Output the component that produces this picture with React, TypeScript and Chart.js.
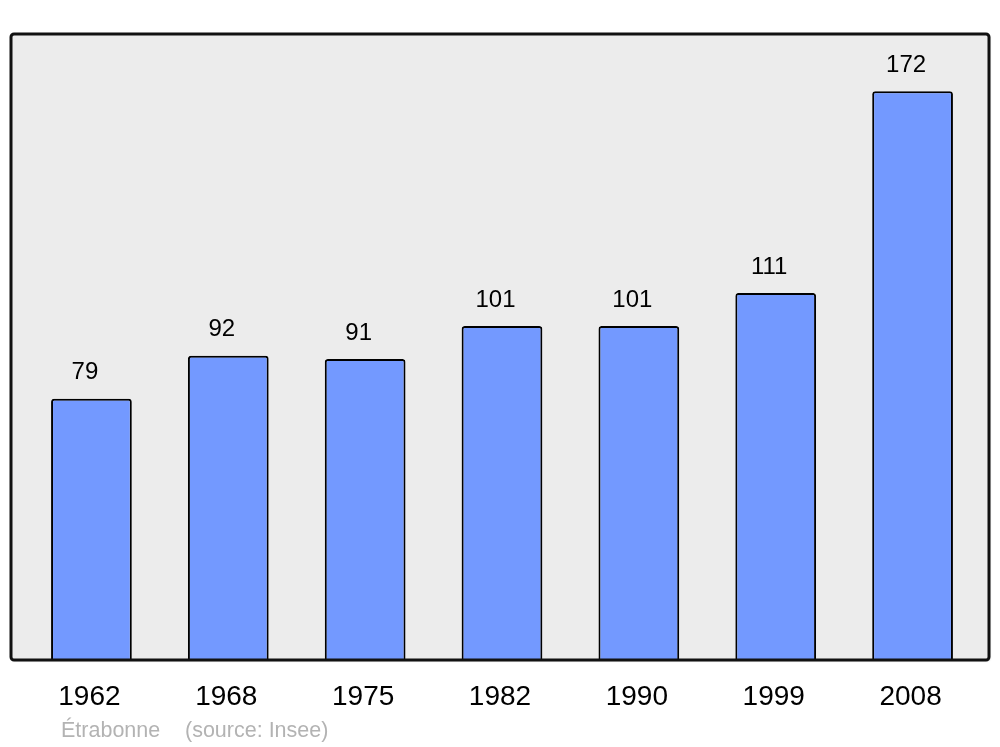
import React, { useEffect, useRef } from "react";
import { Chart, registerables } from "chart.js";

Chart.register(...registerables);

const years = ["1962", "1968", "1975", "1982", "1990", "1999", "2008"];
const population = [79, 92, 91, 101, 101, 111, 172];
const placeName = "Étrabonne";
const sourceText = "(source: Insee)";

const FONT = '"Liberation Sans", Arial, sans-serif';

const framePlugin = {
  id: "frame",
  beforeDatasetsDraw(chart: any) {
    const { ctx } = chart;
    const y = chart.scales.y;
    const top = y.top;
    const bottom = y.bottom;
    ctx.save();
    ctx.beginPath();
    (ctx as any).roundRect(11, top, 978, bottom - top, 3);
    ctx.fillStyle = "#ececec";
    ctx.shadowColor = "rgba(0,0,0,0.25)";
    ctx.shadowOffsetX = 1;
    ctx.shadowOffsetY = 1;
    ctx.shadowBlur = 2;
    ctx.fill();
    ctx.restore();
  },
  afterDatasetsDraw(chart: any) {
    const { ctx } = chart;
    const xs = chart.scales.x;
    const y = chart.scales.y;
    const top = y.top;
    const bottom = y.bottom;
    ctx.save();
    ctx.beginPath();
    (ctx as any).roundRect(11, top, 978, bottom - top, 3);
    ctx.lineWidth = 3;
    ctx.strokeStyle = "#111";
    ctx.stroke();

    // value labels
    ctx.fillStyle = "#000";
    ctx.textAlign = "center";
    ctx.textBaseline = "middle";
    ctx.font = `24px ${FONT}`;
    population.forEach((v, i) => {
      const px = xs.getPixelForValue(i) - 6.5;
      const py = y.getPixelForValue(v) - 26;
      ctx.fillText(String(v), px, py);
    });

    // category labels
    ctx.font = `28px ${FONT}`;
    years.forEach((lab, i) => {
      const px = xs.getPixelForValue(i) - 2;
      ctx.fillText(lab, px, bottom + 37);
    });

    // footer
    ctx.font = `21.5px ${FONT}`;
    ctx.fillStyle = "#b3b3b3";
    ctx.textAlign = "left";
    ctx.fillText(placeName, 61, bottom + 71);
    ctx.fillText(sourceText, 185, bottom + 71);
    ctx.restore();
  },
};

export default function App() {
  const ref = useRef<HTMLCanvasElement>(null);
  useEffect(() => {
    if (!ref.current) return;
    const chart = new Chart(ref.current, {
      type: "bar",
      data: {
        labels: years,
        datasets: [
          {
            data: population,
            backgroundColor: "#7399ff",
            borderColor: "#000",
            borderWidth: 2,
            borderRadius: 3,
            borderSkipped: "bottom",
            barPercentage: 0.59,
            categoryPercentage: 1,
          },
        ],
      },
      options: {
        responsive: false,
        animation: false,
        layout: { padding: { left: 23, right: 19, top: 34, bottom: 87 } },
        plugins: { legend: { display: false }, tooltip: { enabled: false } },
        scales: {
          x: { display: false, offset: true },
          y: { display: false, min: 0, max: 189.3 },
        },
      },
      plugins: [framePlugin],
    });
    return () => chart.destroy();
  }, []);
  return (
    <div style={{ position: "absolute", left: 0, top: 0, width: 1000, height: 747, background: "#fff" }}>
      <canvas ref={ref} width={1000} height={747} style={{ display: "block" }} />
    </div>
  );
}
